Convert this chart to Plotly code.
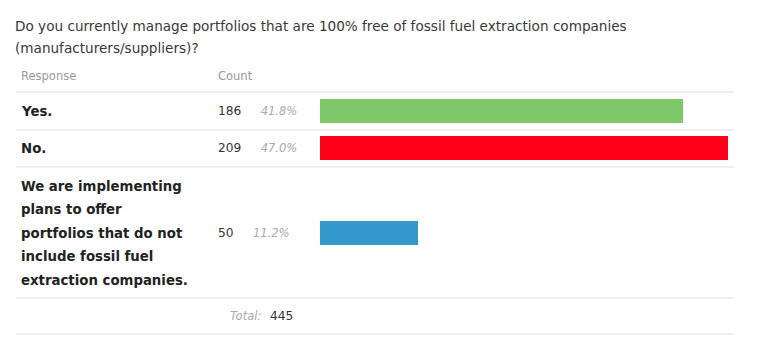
import plotly.graph_objects as go

title_lines = ["Do you currently manage portfolios that are 100% free of fossil fuel extraction companies",
               "(manufacturers/suppliers)?"]
responses = [["Yes."], ["No."],
             ["We are implementing", "plans to offer", "portfolios that do not",
              "include fossil fuel", "extraction companies."]]
counts = [186, 209, 50]
percents = ["41.8%", "47.0%", "11.2%"]
colors = ["#80C76A", "#FF0019", "#3399CC"]
total = 445

# page geometry (browser body has 8px margin)
PW, PH, OFF = 762, 364, 8
W, H = PW - OFF, PH - OFF
# layout (page pixel) positions
row_centers = [111, 148, 233]
separators = [92, 130, 167, 298, 334]
bar_left, bar_maxright = 320, 728
line_gap = 23.5
FONT = "DejaVu Sans"

def px(x):
    return (x - OFF) / W

fig = go.Figure()
xmax = max(counts) * (PW - bar_left) / (bar_maxright - bar_left)
fig.add_trace(go.Bar(
    x=counts, y=row_centers, orientation="h", width=24,
    marker=dict(color=colors, line=dict(width=0)),
    hoverinfo="skip", showlegend=False))

ann = []
def A(x, y, text, size, color, bold=False, italic=False):
    t = text
    if italic:
        t = "<i>" + t + "</i>"
    if bold:
        t = "<b>" + t + "</b>"
    ann.append(dict(x=px(x), y=y, xref="paper", yref="y", text=t, showarrow=False,
                    xanchor="left", yanchor="middle",
                    font=dict(family=FONT, size=size, color=color),
                    borderpad=0, borderwidth=0))

A(15, 26, title_lines[0], 13.6, "#383838")
A(15, 48, title_lines[1], 13.6, "#383838")
A(21, 76, "Response", 11.5, "#999999")
A(218, 76, "Count", 11.5, "#999999")

for lines, c, p, yc in zip(responses, counts, percents, row_centers):
    n = len(lines)
    for i, ln in enumerate(lines):
        A(21, yc + (i - (n - 1) / 2) * line_gap, ln, 13.3, "#222222", bold=True)
    A(218, yc, str(c) + "&nbsp;&nbsp;&nbsp;&nbsp;&nbsp;<i><span style='font-size:11.5px;color:#aaaaaa'>" + p + "</span></i>",
      12.2, "#333333")

A(230, 316, "Total:", 11.5, "#aaaaaa", italic=True)
A(270, 316, str(total), 12.2, "#333333")

shapes = [dict(type="line", xref="paper", yref="y", x0=px(16), x1=px(734), y0=s, y1=s,
               line=dict(color="#EFEFEF", width=2)) for s in separators]

fig.update_layout(
    width=W, height=H, margin=dict(l=0, r=0, t=0, b=0),
    paper_bgcolor="white", plot_bgcolor="white",
    xaxis=dict(domain=[px(bar_left), 1], range=[0, xmax], visible=False, fixedrange=True),
    yaxis=dict(domain=[0, 1], range=[PH, OFF], visible=False, fixedrange=True),
    annotations=ann, shapes=shapes, bargap=0,
)
fig.write_html("out.html")
